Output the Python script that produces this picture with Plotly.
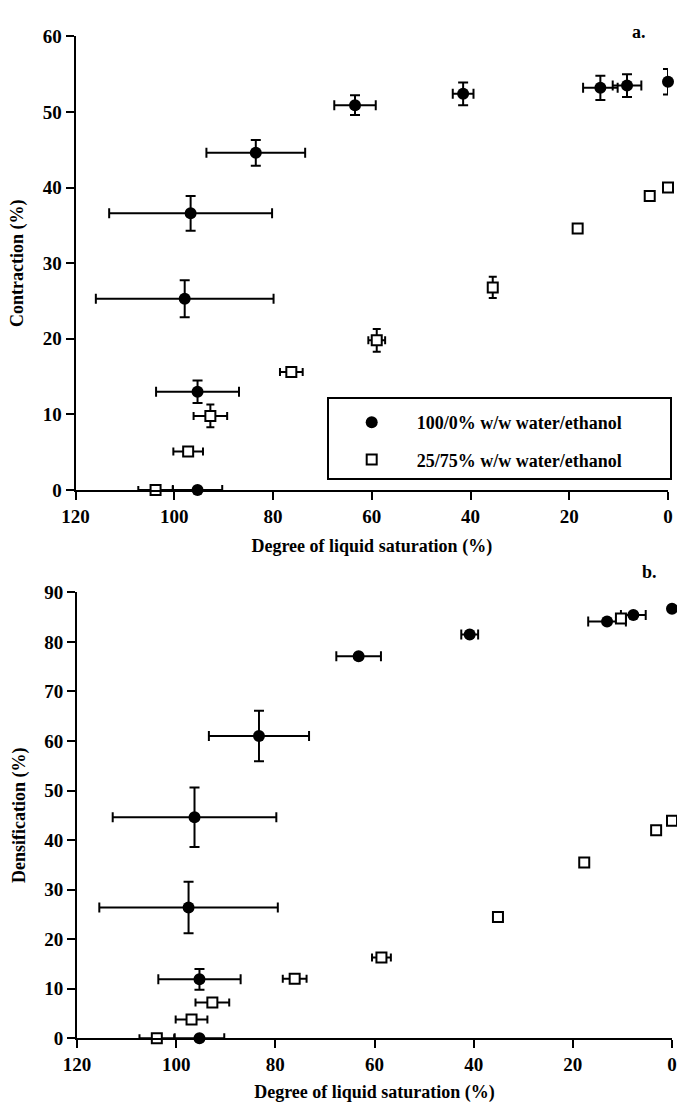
import plotly.graph_objects as go

# ---------------- Data (panel a: contraction) ----------------
sat_a_water = [95.3, 95.3, 97.9, 96.7, 83.5, 63.4, 41.5, 13.7, 8.3, 0.0]
con_a_water = [0.0, 13.0, 25.3, 36.6, 44.6, 50.9, 52.4, 53.2, 53.5, 54.0]
xerr_a_water = [5.0, 8.4, 18.0, 16.5, 10.0, 4.2, 2.1, 3.5, 2.9, 0.0]
yerr_a_water = [0.0, 1.5, 2.45, 2.3, 1.7, 1.3, 1.5, 1.6, 1.5, 1.7]

sat_a_eth = [103.8, 97.2, 92.7, 76.3, 59.0, 35.5, 18.3, 3.7, 0.0]
con_a_eth = [0.0, 5.1, 9.8, 15.6, 19.8, 26.8, 34.6, 38.9, 40.0]
xerr_a_eth = [3.5, 3.0, 3.4, 2.3, 1.7, 0.8, 0.0, 0.0, 0.0]
yerr_a_eth = [0.0, 0.0, 1.5, 0.0, 1.5, 1.4, 0.0, 0.0, 0.0]

# ---------------- Data (panel b: densification) ----------------
sat_b_water = [95.3, 95.3, 97.5, 96.3, 83.3, 63.2, 40.8, 13.1, 7.8, 0.0]
den_b_water = [0.0, 11.9, 26.4, 44.6, 61.0, 77.1, 81.5, 84.1, 85.4, 86.7]
xerr_b_water = [5.0, 8.3, 18.0, 16.5, 10.1, 4.5, 1.7, 3.8, 2.5, 0.0]
yerr_b_water = [0.0, 2.1, 5.2, 6.0, 5.1, 0.0, 0.0, 0.0, 0.0, 0.0]

sat_b_eth = [103.9, 96.9, 92.7, 76.1, 58.6, 35.1, 17.7, 10.3, 3.2, 0.0]
den_b_eth = [0.0, 3.8, 7.2, 12.0, 16.3, 24.5, 35.5, 84.7, 42.0, 43.9]
xerr_b_eth = [3.5, 3.2, 3.4, 2.4, 1.9, 0.0, 0.0, 1.0, 0.0, 0.0]

x_ticks = [0, 20, 40, 60, 80, 100, 120]
label_water = "100/0% w/w water/ethanol"
label_eth = "25/75% w/w water/ethanol"

FONT = "Liberation Serif"
W, H = 677, 1103


def fx(p):
    """page x pixel -> paper fraction"""
    return min(max(p / W, 0.0), 1.0)


def fy(p):
    """page y pixel -> paper fraction"""
    return min(max((H - p) / H, 0.0), 1.0)


def err(vals, w=5):
    return dict(type="data", array=vals, visible=True, color="black",
                thickness=2, width=w)


circle = dict(symbol="circle", size=12, color="black")
square = dict(symbol="square", size=10, color="white",
              line=dict(color="black", width=2))

fig = go.Figure()
# panel a
fig.add_trace(go.Scatter(x=sat_a_water, y=con_a_water, mode="markers",
                         marker=circle, error_x=err(xerr_a_water),
                         error_y=err(yerr_a_water), name=label_water,
                         legendgroup="w", cliponaxis=False,
                         xaxis="x", yaxis="y"))
fig.add_trace(go.Scatter(x=sat_a_eth, y=con_a_eth, mode="markers",
                         marker=square, error_x=err(xerr_a_eth, 4),
                         error_y=err(yerr_a_eth, 4), name=label_eth,
                         legendgroup="e", cliponaxis=False,
                         xaxis="x", yaxis="y"))
# panel b
fig.add_trace(go.Scatter(x=sat_b_water, y=den_b_water, mode="markers",
                         marker=circle, error_x=err(xerr_b_water),
                         error_y=err(yerr_b_water), name=label_water,
                         showlegend=False, cliponaxis=False,
                         xaxis="x2", yaxis="y2"))
fig.add_trace(go.Scatter(x=sat_b_eth, y=den_b_eth, mode="markers",
                         marker=square, error_x=err(xerr_b_eth, 4),
                         name=label_eth, showlegend=False, cliponaxis=False,
                         xaxis="x2", yaxis="y2"))

tickfont = dict(family=FONT, size=19, color="black", weight="bold")
titlefont = dict(family=FONT, size=18, color="black", weight="bold")
axis_common = dict(showline=True, linewidth=2, linecolor="black",
                   ticks="outside", ticklen=8, tickwidth=2, tickcolor="black",
                   showgrid=False, zeroline=False, tickfont=tickfont,
                   automargin=False)

fig.update_layout(
    width=W, height=H,
    margin=dict(l=0, r=0, t=0, b=0, autoexpand=False),
    paper_bgcolor="white", plot_bgcolor="white",
    xaxis=dict(domain=[fx(75.6), fx(668)], range=[120, 0], anchor="y",
               tickvals=x_ticks,
               title=dict(text="Degree of liquid saturation (%)",
                          font=titlefont, standoff=14),
               **axis_common),
    yaxis=dict(domain=[fy(490), fy(36.4)], range=[0, 60],
               dtick=10, anchor="x",
               title=dict(text="Contraction (%)", font=titlefont, standoff=14),
               **axis_common),
    xaxis2=dict(domain=[fx(77), fx(672)], range=[120, 0], anchor="y2",
                tickvals=x_ticks,
                title=dict(text="Degree of liquid saturation (%)",
                           font=titlefont, standoff=14),
                **axis_common),
    yaxis2=dict(domain=[fy(1038.3), fy(592.3)], range=[0, 90],
                dtick=10, anchor="x2",
                title=dict(text="Densification (%)", font=titlefont,
                           standoff=14),
                **axis_common),
    legend=dict(x=fx(326.7), xanchor="left", y=fy(404), yanchor="top",
                bgcolor="rgba(0,0,0,0)", borderwidth=0,
                font=dict(family=FONT, size=18, color="black", weight="bold"),
                itemwidth=80, tracegroupgap=11, traceorder="grouped"),
    shapes=[dict(type="rect", xref="paper", yref="paper",
                 x0=fx(328), x1=fx(671), y0=fy(479), y1=fy(398),
                 line=dict(color="black", width=2), fillcolor="rgba(0,0,0,0)")],
    annotations=[
        dict(text="a.", x=fx(648), y=fy(20), xref="paper", yref="paper",
             showarrow=False, font=dict(family=FONT, size=18, color="black",
                                        weight="bold")),
        dict(text="b.", x=fx(659), y=fy(572), xref="paper", yref="paper",
             showarrow=False, font=dict(family=FONT, size=18, color="black",
                                        weight="bold")),
    ],
)

fig.write_html("out.html",
               config={"displayModeBar": False},
               post_script="document.body.style.margin='0';")
